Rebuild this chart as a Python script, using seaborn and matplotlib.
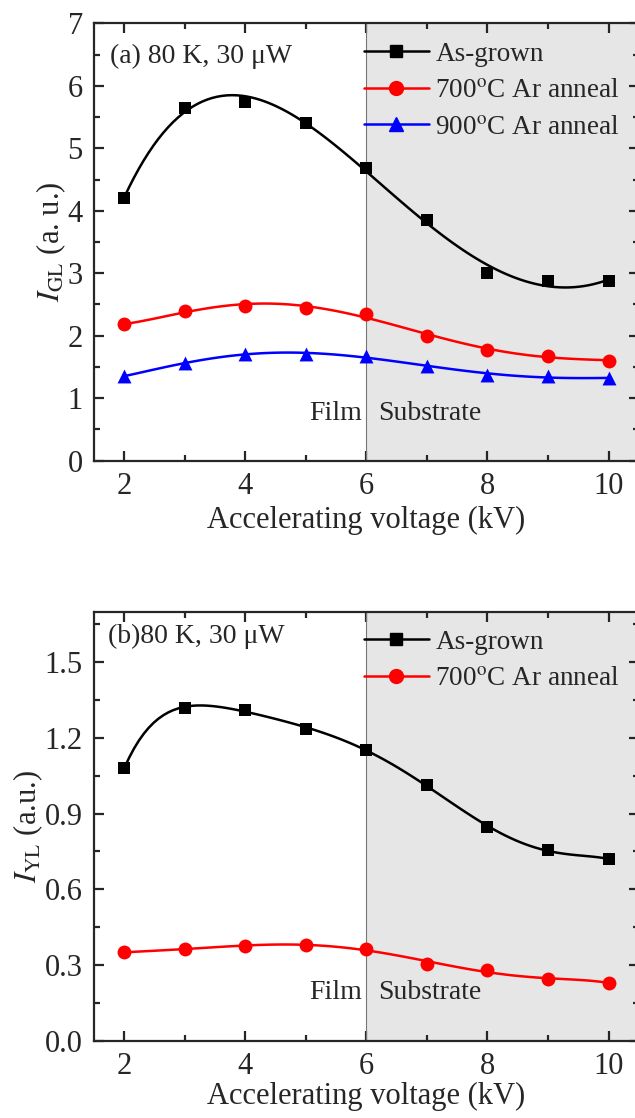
import numpy as np
import matplotlib
matplotlib.use("Agg")
import matplotlib.pyplot as plt
from matplotlib.lines import Line2D
from matplotlib.ticker import MultipleLocator, FormatStrFormatter
import seaborn as sns

# accelerating voltage (kV)
voltage = [2, 3, 4, 5, 6, 7, 8, 9, 10]

# (a) green luminescence intensity
gl_as_grown = [4.20, 5.65, 5.75, 5.40, 4.68, 3.85, 3.00, 2.88, 2.88]
gl_700 = [2.18, 2.40, 2.48, 2.45, 2.35, 2.00, 1.77, 1.68, 1.60]
gl_900 = [1.35, 1.57, 1.70, 1.70, 1.68, 1.52, 1.37, 1.35, 1.32]

# (b) yellow luminescence intensity
yl_as_grown = [1.08, 1.32, 1.31, 1.235, 1.15, 1.015, 0.845, 0.755, 0.72]
yl_700 = [0.35, 0.365, 0.375, 0.38, 0.365, 0.305, 0.28, 0.245, 0.23]

labels = ["As-grown", "700$^{\\rm o}$C Ar anneal", "900$^{\\rm o}$C Ar anneal"]

sns.set_style("ticks")
plt.rcParams["font.family"] = ["Liberation Serif", "DejaVu Serif"]
plt.rcParams["mathtext.fontset"] = "stix"
plt.rcParams["axes.linewidth"] = 1.6
plt.rcParams["xtick.direction"] = "in"
plt.rcParams["ytick.direction"] = "in"

fig = plt.figure(figsize=(6.35, 11.18), dpi=100)
ax1 = fig.add_axes([0.148, 0.588, 0.858, 0.391])
ax2 = fig.add_axes([0.148, 0.069, 0.858, 0.384])

styles = [("black", "s", 8.5), ("red", "o", 10), ("blue", "^", 10)]


def draw_series(ax, y, style, order):
    color, marker, ms = style
    sns.regplot(x=np.array(voltage), y=np.array(y), order=order, ci=None,
                scatter=False, truncate=True, ax=ax,
                line_kws=dict(color=color, lw=1.8, zorder=3))
    sns.scatterplot(x=voltage, y=y, marker=marker, color=color, s=ms ** 2,
                    edgecolor=color, linewidth=0, ax=ax, zorder=4)


def style_axes(ax, ymax, ymajor, yminor, pad):
    ax.axvspan(6, 10.6, color="#e6e6e6", zorder=0, lw=0)
    ax.axvline(6, color="#777777", lw=0.8, zorder=1)
    ax.set_xlim(1.5, 10.5)
    ax.set_ylim(0, ymax)
    ax.xaxis.set_major_locator(MultipleLocator(2))
    ax.xaxis.set_minor_locator(MultipleLocator(1))
    ax.yaxis.set_major_locator(MultipleLocator(ymajor))
    ax.yaxis.set_minor_locator(MultipleLocator(yminor))
    ax.tick_params(which="both", top=True, right=True, width=1.6,
                   labelsize=22, pad=8)
    ax.tick_params(which="major", length=7)
    ax.tick_params(which="minor", length=4)
    ax.set_xlabel("Accelerating voltage (kV)", fontsize=22, labelpad=pad)


# (a)
for y, st in zip([gl_as_grown, gl_700, gl_900], styles):
    draw_series(ax1, y, st, 5)
style_axes(ax1, 7, 1, 0.5, 4)
ax1.set_ylabel("$I_{\\rm GL}$ (a. u.)", fontsize=22, labelpad=0)
ax1.text(1.77, 6.48, "(a) 80 K, 30 \u03bcW", fontsize=20, va="center")
ax1.text(5.93, 0.75, "Film", fontsize=20, ha="right", va="center")
ax1.text(6.2, 0.75, "Substrate", fontsize=20, ha="left", va="center")

# (b)
for y, st in zip([yl_as_grown, yl_700], styles):
    draw_series(ax2, y, st, 6)
style_axes(ax2, 1.7, 0.3, 0.15, 1)
ax2.yaxis.set_major_formatter(FormatStrFormatter("%.1f"))
ax2.set_ylabel("$I_{\\rm YL}$ (a.u.)", fontsize=22, labelpad=0)
ax2.text(1.73, 1.6, "(b)80 K, 30 \u03bcW", fontsize=20, va="center")
ax2.text(5.93, 0.19, "Film", fontsize=20, ha="right", va="center")
ax2.text(6.2, 0.19, "Substrate", fontsize=20, ha="left", va="center")


def make_legend(ax, n):
    handles = [Line2D([], [], color=c, marker=m, markersize=ms, lw=1.8)
               for c, m, ms in styles[:n]]
    ax.legend(handles, labels[:n], loc="upper left", bbox_to_anchor=(0.465, 0.995),
              frameon=False, fontsize=19.5, handlelength=2.4, handletextpad=0.25,
              labelspacing=0.42, borderaxespad=0.2)


make_legend(ax1, 3)
make_legend(ax2, 2)

fig.savefig("out.png", dpi=100)
